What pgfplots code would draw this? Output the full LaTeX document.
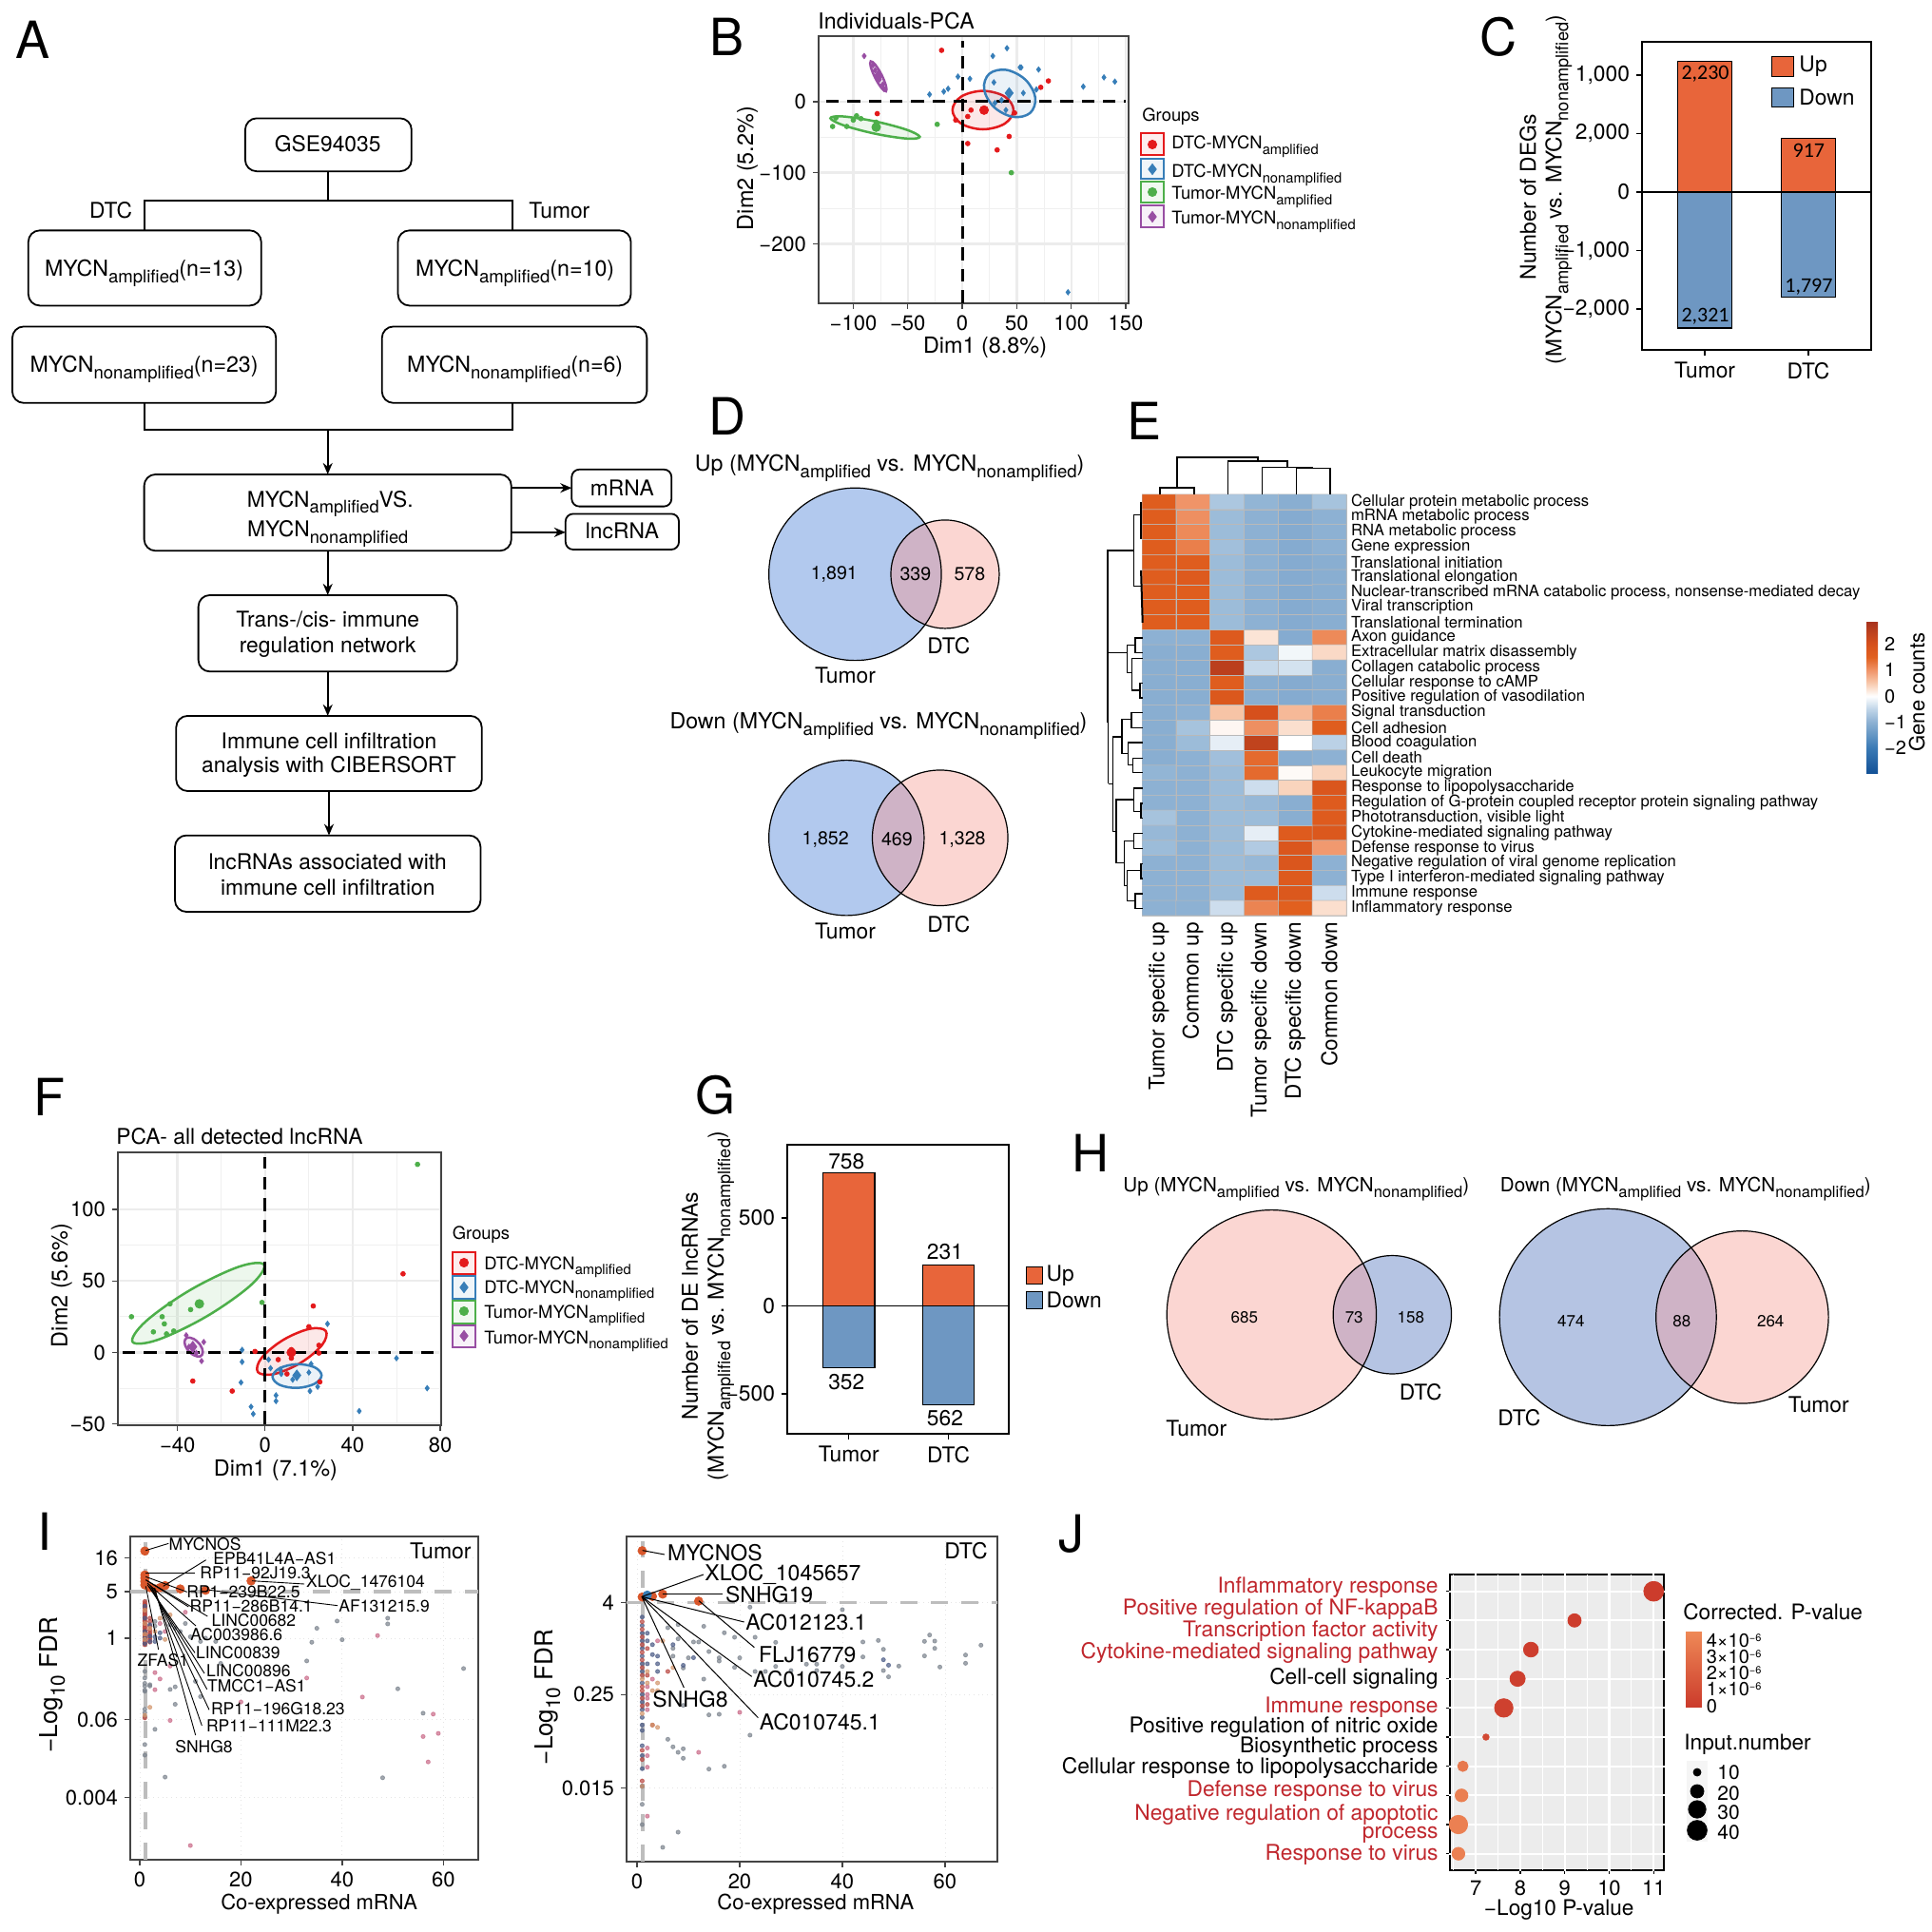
\documentclass[border=0pt]{standalone}
\usepackage{fontspec}
\setmainfont{TeX Gyre Heros}
\newfontfamily\calib{Carlito}
\usepackage{pgfplots}
\pgfplotsset{compat=1.18}
\usetikzlibrary{arrows.meta}

\newcommand\fs[1]{\fontsize{#1pt}{#1pt}\selectfont}
\newcommand\sbs[1]{\raisebox{-0.3em}{\scalebox{0.8}{#1}}}
\newcommand\Mamp{MYCN\sbs{amplified}}
\newcommand\Mnon{MYCN\sbs{nonamplified}}
\newcommand\ee[1]{#1×10\raisebox{0.3em}{\scalebox{0.55}{−6}}}

\definecolor{cR}{HTML}{E41A1C}
\definecolor{cB}{HTML}{377EB8}
\definecolor{cG}{HTML}{4DAF4A}
\definecolor{cP}{HTML}{984EA3}
\definecolor{upc}{HTML}{E8653A}
\definecolor{dnc}{HTML}{6E97C2}
\definecolor{dgray}{HTML}{444444}
\definecolor{vblue}{HTML}{B2C9EE}
\definecolor{vpink}{HTML}{FBD6D2}
\definecolor{vlens}{HTML}{CFB3C6}
\definecolor{hblue}{HTML}{B5C4E3}
\definecolor{jred}{HTML}{C0272D}
\definecolor{dotgray}{HTML}{7A828C}
\definecolor{dotpink}{HTML}{C96A88}
\definecolor{dotred}{HTML}{B8453F}
\definecolor{dotblue}{HTML}{4A5A85}
\definecolor{dotor}{HTML}{D2946A}
\definecolor{hilite}{HTML}{D9572B}
\definecolor{dashg}{HTML}{BDBDBD}

\pgfplotsset{
  master/.style={hide axis,scale only axis,width=1016pt,height=1016pt,
    at={(0pt,0pt)},anchor=south west,clip=false,y dir=reverse},
  pca/.style={scale only axis,
    axis line style={draw=dgray,line width=.9pt},
    tick style={draw=dgray,line width=.7pt},
    tick pos=left,tick align=outside,major tick length=3pt,minor tick length=0pt,
    grid=both,minor tick num=1,
    major grid style={gray!15,line width=1.2pt},
    minor grid style={gray!12,line width=.5pt},
    tick label style={font=\fs{11}},
    label style={font=\fs{11.7}}},
  bars/.style={scale only axis,ybar,bar width=0.52,bar shift=0,
    axis line style={draw=black,line width=.8pt},
    tick style={draw=black,line width=.7pt},
    tick pos=left,tick align=outside,major tick length=3pt,
    xtick={0,1},xticklabels={Tumor,DTC},
    tick label style={font=\fs{11.4}}},
  vol/.style={scale only axis,
    axis line style={draw=dgray,line width=.9pt},
    tick style={draw=dgray,line width=.7pt},
    tick pos=left,tick align=outside,major tick length=3pt,
    grid=major,major grid style={gray!20,line width=.4pt,dotted},
    xtick={0,20,40,60},xticklabels={0,20,40,60},
    tick label style={font=\fs{11}},
    label style={font=\fs{11}}},
  ell/.style={smooth cycle,tension=0.6,line width=1.25pt,draw=#1,fill=#1,fill opacity=.1,forget plot},
  zero/.style={black,line width=1.5pt,dash pattern=on 6.7pt off 4.5pt,forget plot},
  spt/.style={only marks,mark=*,mark size=1.2pt,color=#1,forget plot},
  sdm/.style={only marks,mark=diamond*,mark size=1.4pt,color=#1,forget plot},
  cpt/.style={only marks,mark=*,mark size=2.3pt,color=#1,forget plot},
  cdm/.style={only marks,mark=diamond*,mark size=2.8pt,color=#1,forget plot},
  dot/.style={only marks,mark=*,mark size=1.05pt,color=#1,opacity=.7,forget plot},
  hi/.style={only marks,mark=*,mark size=2.2pt,color=hilite,forget plot},
  gdash/.style={dashg,line width=1.8pt,dash pattern=on 9pt off 7pt,forget plot},
}

\begin{document}
\begin{tikzpicture}
\path[use as bounding box] (0pt,0pt) rectangle (1016pt,1016pt);

% B
\begin{axis}[pca,at={(430.5pt,856.5pt)},anchor=south west,width=163pt,height=140.5pt,
  xmin=-131.8,xmax=152.6,ymin=-283.5,ymax=92,
  xtick={-100,-50,0,50,100,150},xticklabels={−100,−50,0,50,100,150},
  ytick={-200,-100,0},yticklabels={−200,−100,0},
  xlabel={Dim1 (8.8\%)},ylabel={Dim2 (5.2\%)},
  x label style={at={(axis description cs:0.537,-0.164)},anchor=center},
  y label style={at={(axis description cs:-0.23,0.505)},anchor=center}]
\addplot[ell=cR] coordinates {(47,-12)(39,7)(19,15)(-1,7)(-9,-12)(-1,-31)(19,-39)(39,-31)};
\addplot[ell=cB] coordinates {(67,5.5)(58,30.6)(40.5,44.5)(24.8,39.1)(20,17.5)(29,-7.6)(46.5,-21.5)(62.2,-16.1)};
\addplot[ell=cG] coordinates {(-39,-49.5)(-51.7,-39.3)(-81,-27.5)(-109.7,-20.9)(-121,-23.5)(-108.3,-33.7)(-79,-45.5)(-50.3,-52.1)};
\addplot[ell=cP] coordinates {(-70,14.5)(-70,22.1)(-74,37.5)(-79.8,51.8)(-84,56.5)(-84,48.9)(-80,33.5)(-74.2,19.2)};
\addplot[zero] coordinates {(-125,0)(150,0)};
\addplot[zero] coordinates {(0,-283)(0,85)};
\addplot[spt=cR] coordinates {(-19,72)(-78,-17)(79,29)(72,20)(8,-12)(5,-21)(-6,-26)(5,-59)(32,-68)(43,-49)(48,-16)};
\addplot[cpt=cR] coordinates {(20,-12)};
\addplot[sdm=cB] coordinates {(-30,10)(-17,14)(-13,18)(-4,35)(7,32)(29,27)(28,64)(41,75)(54,48)(53,48)(70,45)(56,12)(68,17)(111,21)(130,34)(140,28)(97,-268)(36,2)(40,-12)(30,-2)};
\addplot[cdm=cB] coordinates {(43,12)};
\addplot[spt=cG] coordinates {(-119,-35)(-116,-23)(-106,-35)(-100,-26)(-97,-20)(-93,-24)(-79,-29)(-23,-32)(45,-100)};
\addplot[cpt=cG] coordinates {(-79,-36)};
\addplot[sdm=cP] coordinates {(-90,64)(-82,51)(-80,44)(-78,38)(-76,31)(-73,24)(-72,18)};
\addplot[cdm=cP] coordinates {(-77,36)};
\end{axis}

% C
\begin{axis}[bars,at={(863.5pt,832pt)},anchor=south west,width=120.5pt,height=162pt,
  xmin=-0.607,xmax=1.607,ymin=-2695,ymax=2568,
  ytick={-2000,-1000,0,1000,2000},yticklabels={{−2,000},{−1,000},0,{2,000},{1,000}}]
\addplot[fill=upc,draw=black,line width=.6pt] coordinates {(0,2230)(1,917)};
\addplot[fill=dnc,draw=black,line width=.6pt] coordinates {(0,-2321)(1,-1797)};
\addplot[sharp plot,black,line width=.8pt,forget plot] coordinates {(-0.607,0)(1.607,0)};
\end{axis}

% E
\begin{axis}[scale only axis,at={(600.5pt,534.5pt)},anchor=south west,width=107.5pt,height=221.5pt,
  y dir=reverse,xmin=-0.5,xmax=5.5,ymin=-0.5,ymax=27.5,
  axis line style={draw=gray!50,line width=.3pt},
  colormap={heat}{rgb255(0pt)=(18,80,150); rgb255(10pt)=(58,122,181); rgb255(20pt)=(141,177,211);
    rgb255(25pt)=(192,213,232); rgb255(30pt)=(255,255,255); rgb255(35pt)=(248,201,173);
    rgb255(40pt)=(240,148,104); rgb255(45pt)=(225,96,31); rgb255(50pt)=(214,80,28); rgb255(59pt)=(165,50,30)},
  point meta min=-3,point meta max=2.9,
  tick style={draw=none},
  xtick={0,...,5},
  xticklabels={Tumor specific up,Common up,DTC specific up,Tumor specific down,DTC specific down,Common down},
  xticklabel style={rotate=90,anchor=east,font=\fs{11.3}},
  ytick={0,...,27},yticklabel pos=right,
  yticklabels={Cellular protein metabolic process,mRNA metabolic process,RNA metabolic process,Gene expression,
    Translational initiation,Translational elongation,{Nuclear-transcribed mRNA catabolic process, nonsense-mediated decay},
    Viral transcription,Translational termination,Axon guidance,Extracellular matrix disassembly,Collagen catabolic process,
    Cellular response to cAMP,Positive regulation of vasodilation,Signal transduction,Cell adhesion,Blood coagulation,
    Cell death,Leukocyte migration,Response to lipopolysaccharide,Regulation of G-protein coupled receptor protein signaling pathway,
    {Phototransduction, visible light},Cytokine-mediated signaling pathway,Defense response to virus,
    Negative regulation of viral genome replication,Type I interferon-mediated signaling pathway,Immune response,Inflammatory response},
  yticklabel style={anchor=west,font=\fs{8.33},xshift=-1pt},
  colorbar,
  colorbar style={at={(parent axis.north east)},anchor=north west,xshift=265pt,yshift=-66.5pt,
    width=6pt,height=80.5pt,ytick={-2,-1,0,1,2},yticklabels={−2,−1,0,1,2},
    yticklabel style={font=\fs{10}},major tick length=0pt,axis line style={draw=none}}]
\addplot[matrix plot*,mesh/cols=6,point meta=explicit,draw=gray!55,line width=.25pt] coordinates {
(0,0)[1.6] (1,0)[1.0] (2,0)[-.7] (3,0)[-.95] (4,0)[-1.05] (5,0)[-.75]
(0,1)[1.6] (1,1)[1.05] (2,1)[-.85] (3,1)[-1] (4,1)[-1.1] (5,1)[-1]
(0,2)[1.6] (1,2)[1.1] (2,2)[-.85] (3,2)[-1] (4,2)[-1.1] (5,2)[-1]
(0,3)[1.6] (1,3)[1.2] (2,3)[-.8] (3,3)[-1] (4,3)[-1.1] (5,3)[-1]
(0,4)[1.6] (1,4)[1.6] (2,4)[-.85] (3,4)[-1] (4,4)[-1.1] (5,4)[-1.05]
(0,5)[1.6] (1,5)[1.7] (2,5)[-.85] (3,5)[-1] (4,5)[-1.1] (5,5)[-1.05]
(0,6)[1.6] (1,6)[1.6] (2,6)[-.85] (3,6)[-1] (4,6)[-1.1] (5,6)[-1.05]
(0,7)[1.6] (1,7)[1.6] (2,7)[-.85] (3,7)[-1] (4,7)[-1.1] (5,7)[-1.05]
(0,8)[1.6] (1,8)[1.6] (2,8)[-.85] (3,8)[-1] (4,8)[-1.1] (5,8)[-1.05]
(0,9)[-1] (1,9)[-1] (2,9)[1.7] (3,9)[.25] (4,9)[-1.1] (5,9)[1.1]
(0,10)[-1.05] (1,10)[-1.05] (2,10)[1.6] (3,10)[-.7] (4,10)[-.1] (5,10)[.35]
(0,11)[-1.05] (1,11)[-1.05] (2,11)[2.5] (3,11)[-.45] (4,11)[-.35] (5,11)[-1.05]
(0,12)[-1.05] (1,12)[-1.05] (2,12)[1.6] (3,12)[-1.05] (4,12)[-1.1] (5,12)[-1.05]
(0,13)[-1.05] (1,13)[-1.05] (2,13)[1.75] (3,13)[-1.05] (4,13)[-1.1] (5,13)[-1.05]
(0,14)[-1.05] (1,14)[-1] (2,14)[.55] (3,14)[2] (4,14)[.65] (5,14)[1.2]
(0,15)[-1.05] (1,15)[-.75] (2,15)[.08] (3,15)[1.05] (4,15)[.3] (5,15)[1.6]
(0,16)[-1.05] (1,16)[-.85] (2,16)[-.2] (3,16)[2.4] (4,16)[0] (5,16)[-.55]
(0,17)[-1.05] (1,17)[-1] (2,17)[-.8] (3,17)[1.4] (4,17)[-1.05] (5,17)[-1]
(0,18)[-.95] (1,18)[-1] (2,18)[-.85] (3,18)[1.4] (4,18)[.05] (5,18)[.4]
(0,19)[-1] (1,19)[-1] (2,19)[-.85] (3,19)[-.4] (4,19)[.4] (5,19)[1.8]
(0,20)[-1] (1,20)[-1] (2,20)[-.85] (3,20)[-.9] (4,20)[-1.05] (5,20)[1.65]
(0,21)[-.75] (1,21)[-1] (2,21)[-.85] (3,21)[-.85] (4,21)[-1.05] (5,21)[1.65]
(0,22)[-.9] (1,22)[-1] (2,22)[-.85] (3,22)[-.2] (4,22)[1.65] (5,22)[1.75]
(0,23)[-.85] (1,23)[-1] (2,23)[-.85] (3,23)[-.65] (4,23)[1.8] (5,23)[.95]
(0,24)[-1] (1,24)[-1] (2,24)[-.85] (3,24)[-.9] (4,24)[1.8] (5,24)[-1]
(0,25)[-1] (1,25)[-1] (2,25)[-.85] (3,25)[-.85] (4,25)[1.7] (5,25)[-1]
(0,26)[-1] (1,26)[-1] (2,26)[-.85] (3,26)[1.65] (4,26)[1.75] (5,26)[-.4]
(0,27)[-1] (1,27)[-1] (2,27)[-.4] (3,27)[1.15] (4,27)[1.5] (5,27)[.3]
};
\end{axis}

% F
\begin{axis}[pca,at={(62pt,266.5pt)},anchor=south west,width=170pt,height=143.5pt,
  xmin=-67.2,xmax=80.4,ymin=-50.9,ymax=140,
  xtick={-40,0,40,80},xticklabels={−40,0,40,80},
  ytick={-50,0,50,100},yticklabels={−50,0,50,100},
  xlabel={Dim1 (7.1\%)},ylabel={Dim2 (5.6\%)},
  x label style={at={(axis description cs:0.488,-0.167)},anchor=center},
  y label style={at={(axis description cs:-0.174,0.512)},anchor=center}]
\addplot[ell=cG] coordinates {(-0.5,61.4)(-12.1,59.9)(-34.5,43.4)(-54.5,21.7)(-60.5,7.4)(-48.9,8.9)(-26.5,25.4)(-6.5,47.1)};
\addplot[ell=cR] coordinates {(27.7,15.1)(20.3,16.5)(8.2,8.7)(-1.6,-3.8)(-3.3,-13.7)(4.1,-15.1)(16.2,-7.3)(26,5.2)};
\addplot[ell=cB] coordinates {(25.8,-16)(22.5,-10.3)(14.6,-8.2)(6.7,-11)(3.4,-17)(6.7,-22.7)(14.6,-24.8)(22.5,-22)};
\addplot[ell=cP] coordinates {(-29.6,-2.7)(-28.4,0.3)(-29.6,5.3)(-32.6,9.5)(-35.6,10.3)(-36.8,7.3)(-35.6,2.3)(-32.6,-1.9)};
\addplot[zero] coordinates {(-65,0)(78,0)};
\addplot[zero] coordinates {(0,-50)(0,137)};
\addplot[spt=cR] coordinates {(63,55)(22,32.5)(20,18)(24.6,5)(24.6,-0.4)(12,2)(12,-4)(6,-5)(-4.6,0.7)(10,-15)(25,-20.6)(-15,-27)(-33,-20)};
\addplot[cpt=cR] coordinates {(12,0)};
\addplot[sdm=cB] coordinates {(60,-4)(74,-25)(43,-41)(28.5,20)(-10.5,1.8)(-10.5,-6.6)(-11,-21)(-6.4,-38)(-5.4,-43)(5,-30)(5,-34)(1.6,-5)(2.5,-11)(7.4,-15)(21,-8)(20,-14)(12.6,-19)(24,-24)(20.5,-27)(7,-12)};
\addplot[cdm=cB] coordinates {(14.5,-16)};
\addplot[spt=cG] coordinates {(69.6,131.6)(-61,25)(-47,25)(-43.4,34)(-34,30)(-46,20)(-51,14.4)(-45,13)(-41.7,15)(-1.4,35)};
\addplot[cpt=cG] coordinates {(-30,34)};
\addplot[sdm=cP] coordinates {(-36,12)(-28,7.3)(-29,-6)(-34.7,4)(-33,1.8)(-31.4,-0.4)};
\addplot[cdm=cP] coordinates {(-33,4)};
\end{axis}

% G
\begin{axis}[bars,at={(414pt,262pt)},anchor=south west,width=116.5pt,height=152pt,
  xmin=-0.617,xmax=1.605,ymin=-727,ymax=916,
  ytick={-500,0,500},yticklabels={−500,0,500}]
\addplot[fill=upc,draw=black,line width=.6pt] coordinates {(0,758)(1,231)};
\addplot[fill=dnc,draw=black,line width=.6pt] coordinates {(0,-352)(1,-562)};
\addplot[sharp plot,black,line width=.8pt,forget plot] coordinates {(-0.617,0)(1.605,0)};
\end{axis}

% I left
\begin{axis}[vol,at={(68.5pt,38pt)},anchor=south west,width=183pt,height=170pt,
  xmin=-1.88,xmax=66.9,ymin=-3.333,ymax=1.529,
  ytick={-2.398,-1.222,0,0.699,1.204},yticklabels={0.004,0.06,1,5,16},
  xlabel={Co-expressed mRNA},ylabel={−Log\sbs{10} FDR},
  x label style={at={(axis description cs:0.543,-0.138)},anchor=center},
  y label style={at={(axis description cs:-0.224,0.541)},anchor=center,font=\fs{13}}]
\addplot[gdash] coordinates {(-1.88,0.699)(66.9,0.699)};
\addplot[gdash] coordinates {(1.1,-3.333)(1.1,1.45)};
\addplot[dot=dotgray] coordinates {(49,.30)(49,.214)(39,.257)(35,.148)(34,-.062)(40,-.024)(33,-.343)(64,-.457)(51,-.762)(56,-1.129)(48,-2.1)(5,-2.09)(3,-1.371)(7,-.995)(6,-.771)(7,-.733)
 (1,-.5)(1,-.6)(1,-.68)(1,-.72)(1,-.78)(1,-.8)(1,-1.07)(1,-1.12)(1,-1.18)(1,-1.6)(1,-1.76)(2,-.7)(2,-.72)(3,.25)(3,.18)(6,.2)(7,.15)(8,.1)(9,.22)(10,.02)(12,-.05)(15,-.05)(16,-.38)(11,-.65)(12,-.88)(13,.0)};
\addplot[dot=dotpink] coordinates {(47,.038)(33,-.6)(44,-.886)(58,-1.143)(56,-1.48)(59,-1.433)(57,-1.862)(10,-3.119)(6,-1.238)(3,-.519)(4,-.614)(3,-.776)(20,-.96)(4,.22)(5,.1)(9,.39)(6,-.42)};
\addplot[dot=dotred] coordinates {(1,.55)(1,.52)(1,.5)(1,.47)(1,.45)(1,.42)(1,.4)(1,.37)(1,.35)(1,.32)(1,.3)(1,.27)(1,.25)(1,.22)(1,.2)(1,.17)(1,.15)(1,.12)(1,.1)(1,.07)(1,.05)(1,.02)(1,0)(1,-.03)(1,-.05)(1,-.08)(1,-.1)(2,.3)(2,.25)(2,.18)(2,.12)(2,.08)(2,.05)(2,.01)(2,-.02)(2,-.06)(1,-1.2)};
\addplot[dot=dotblue] coordinates {(1,.48)(1,.3)(1,.1)(1,0)(1,-.08)(2,.2)(2,.03)(2,-.05)(3,.02)(4,.08)(4,0)(3,-.05)};
\addplot[dot=dotor] coordinates {(1,.42)(1,.22)(1,.06)(1,-.02)(2,.15)(4,.3)(3,.1)(5,-.02)(2,-1.04)(1,-1.16)(6,.35)};
\addplot[hi] coordinates {(1,1.31)(1,.95)(1,.9)(1,.85)(1,.8)(2,.76)(3,.74)(4,.76)(5,.79)(8,.74)(13,.72)(22,.86)};
\end{axis}

% I right
\begin{axis}[vol,at={(329.5pt,37pt)},anchor=south west,width=195pt,height=171pt,
  xmin=-2.04,xmax=70.2,ymin=-2.784,ymax=1.463,
  ytick={-1.824,-0.602,0.602},yticklabels={0.015,0.25,4},
  xlabel={Co-expressed mRNA},ylabel={−Log\sbs{10} FDR},
  x label style={at={(axis description cs:0.51,-0.132)},anchor=center},
  y label style={at={(axis description cs:-0.213,0.506)},anchor=center,font=\fs{13}}]
\addplot[gdash] coordinates {(-2.04,0.602)(70.2,0.602)};
\addplot[gdash] coordinates {(1.1,-2.784)(1.1,1.4)};
\addplot[dot=dotgray] coordinates {(40,.507)(22,.54)(13,.29)(17,.205)(19,.147)(23,.147)(27,.08)(44,.085)(47,.105)(56,.093)(57,.176)(58,.097)(58,.002)(56,-.097)(67,.043)(64,-.085)(64,-.193)(59,-.242)(51,-.23)(49,-.37)(48,-.011)(48,-.288)(44,-.11)(40,-.234)(35,-.205)(35,-.288)(33,-.205)(30,-.288)(27,-.234)(25,-.3)(23,-.3)(20,-.122)(19,-.247)(16,-.122)(16,-.164)(14,-.04)(12,.085)(11,.085)(10,-.122)(9,-.255)(8,.312)(8,.126)(6,.271)(7,.002)(7,-.1)(13,-.4)(14,-.867)(16,-.859)(9,-.743)(22,-1.132)(6,-1.186)(7,-1.285)(8,-1.356)(9,-1.31)(9,-1.434)(14,-1.575)(17,-1.538)(8,-2.399)(5,-2.597)(1,-2.035)(1,-2.3)};
\addplot[dot=dotblue] coordinates {(1,.41)(1,.3)(1,.2)(1,.1)(1,0)(1,-.1)(1,-.2)(1,-.3)(1,-.45)(1,-.6)(1,-.7)(1,-.8)(1,-.9)(1,-1.0)(1,-1.07)(1,-1.27)(1,-1.4)(1,-1.57)(1,-1.8)(2,.2)(2,.1)(2,-.2)(3,.05)(3,-.08)(4,-.2)(4,-.3)(4,-.1)(49,-.218)(48,-.147)(9,-.22)(7,.05)(11,-.12)};
\addplot[dot=dotred] coordinates {(1,.35)(1,.25)(1,.15)(1,.05)(1,-.05)(1,-.15)(1,-.25)(1,-.35)(1,-.5)(1,-.55)(1,-.65)(1,-.75)(1,-1.33)(1,-1.45)(1,-1.73)(2,.0)(2,-.35)(6,-.3)(3,-1.0)(2,-.73)};
\addplot[dot=dotpink] coordinates {(2,-.5)(2,-.6)(2,-.65)(2,-.8)(2,-1.3)(2,-1.4)(2,-1.55)(2,-2.19)(20,-.834)(12,-1.356)(4,.1)(3,-.4)};
\addplot[dot=dotor] coordinates {(1,-.4)(1,-.85)(1,-1.8)(2,-.3)(2,-.45)(3,-.55)(4,-.45)(4,-.55)(4,-1.03)(3,-1.0)(5,.1)(7,-.25)};
\addplot[hi] coordinates {(1,1.277)(1,.672)(3,.68)(5,.71)(12,.619)};
\addplot[only marks,mark=*,mark size=2.2pt,color=cB,forget plot] coordinates {(2,.697)};
\end{axis}

% J
\begin{axis}[scale only axis,at={(762.5pt,32.5pt)},anchor=south west,width=112.5pt,height=155.5pt,
  xmin=6.42,xmax=11.23,ymin=-0.565,ymax=9.576,clip=false,
  axis background/.style={fill=gray!15},
  axis line style={draw=black,line width=.9pt},
  tick style={draw=black,line width=.7pt},
  tick align=outside,tick pos=left,major tick length=2pt,
  xtick={7,8,9,10,11},xticklabels={7,8,9,10,11},
  ytick={0,...,9},yticklabels={},
  tick label style={font=\fs{11}},label style={font=\fs{11.3}},
  xlabel={−Log10 P-value},
  x label style={at={(axis description cs:0.51,-0.135)},anchor=center},
  colormap={pv}{rgb255(0pt)=(203,58,43); rgb255(4pt)=(239,138,87)},
  point meta min=-0.1,point meta max=4.6,
  colorbar,
  colorbar style={at={(parent axis.north east)},anchor=north west,xshift=3pt,yshift=-29.5pt,
    width=8.35pt,height=40.4pt,ytick={0,1,2,3,4},
    yticklabels={0,\ee{1},\ee{2},\ee{3},\ee{4}},
    yticklabel style={font=\fs{10},xshift=-1pt},major tick length=0pt,axis line style={draw=none}}]
\addplot[white,line width=.5pt,forget plot,unbounded coords=jump] coordinates {
 (6.5,-.565)(6.5,9.576)(nan,nan)(7.5,-.565)(7.5,9.576)(nan,nan)(8.5,-.565)(8.5,9.576)(nan,nan)(9.5,-.565)(9.5,9.576)(nan,nan)(10.5,-.565)(10.5,9.576)};
\addplot[white,line width=1.1pt,forget plot,unbounded coords=jump] coordinates {
 (7,-.6)(7,9.61)(nan,nan)(8,-.6)(8,9.61)(nan,nan)(9,-.6)(9,9.61)(nan,nan)(10,-.6)(10,9.61)(nan,nan)(11,-.6)(11,9.61)(nan,nan)
 (6.39,0)(11.26,0)(nan,nan)(6.39,1)(11.26,1)(nan,nan)(6.39,2)(11.26,2)(nan,nan)(6.39,3)(11.26,3)(nan,nan)(6.39,4)(11.26,4)(nan,nan)
 (6.39,5)(11.26,5)(nan,nan)(6.39,6)(11.26,6)(nan,nan)(6.39,7)(11.26,7)(nan,nan)(6.39,8)(11.26,8)(nan,nan)(6.39,9)(11.26,9)};
\addplot[scatter,only marks,mark=*,point meta=explicit,
  scatter/use mapped color={draw=mapped color,fill=mapped color},
  visualization depends on={\thisrow{r} \as \rr},
  scatter/@pre marker code/.append style={/tikz/mark size=\rr pt}]
  table[x=x,y=y,meta=m] {
x y r m
11 9 5.2 0
9.22 8 3.5 .1
8.24 7 3.9 .1
7.94 6 4.0 .2
7.63 5 4.85 .3
7.23 4 1.65 .8
6.71 3 2.75 3.5
6.68 2 3.35 3.9
6.61 1 4.85 4
6.61 0 3.35 4
};
\end{axis}

% overview units: flowchart, Venn diagrams, panel letters, bar notes
\begin{axis}[master,xmin=0,xmax=1568,ymin=0,ymax=1568]
\tikzset{box/.style={draw=black,line width=.9pt,rounded corners=6pt},
  wire/.style={draw=black,line width=.9pt},
  arr/.style={draw=black,line width=.9pt,-{Stealth[length=6pt,width=5pt]}}}
\draw[box] (199,96) rectangle (334,139);
\draw[box] (23,187) rectangle (212,248);
\draw[box] (323,187) rectangle (512,248);
\draw[box] (10,265) rectangle (224,327);
\draw[box] (310,265) rectangle (525,327);
\draw[box] (117,385) rectangle (415,447);
\draw[box,rounded corners=4pt] (464,381) rectangle (545,411);
\draw[box,rounded corners=4pt] (459,417) rectangle (551,446);
\draw[box] (161,483) rectangle (371,545);
\draw[box] (143,581) rectangle (391,642);
\draw[box] (142,678) rectangle (390,740);
\draw[wire] (266,139) -- (266,163);
\draw[wire] (117,187) -- (117,163) -- (416,163) -- (416,187);
\draw[wire] (117,327) -- (117,349) -- (416,349) -- (416,327);
\draw[arr] (266,349) -- (266,385);
\draw[arr] (415,396) -- (464,396);
\draw[arr] (415,432) -- (459,432);
\draw[arr] (266,447) -- (266,483);
\draw[arr] (266,545) -- (266,581);
\draw[arr] (267,642) -- (267,678);
\tikzset{every node/.append style={font=\fs{11.4},inner sep=0pt}}
\node at (266,117) {GSE94035};
\node at (90,171) {DTC};
\node at (454,171) {Tumor};
\node[font=\fs{11.6}] at (117,222) {\Mamp(n=13)};
\node[font=\fs{11.6}] at (418,222) {\Mamp(n=10)};
\node[font=\fs{11.6}] at (117,300) {\Mnon(n=23)};
\node[font=\fs{11.6}] at (418,300) {\Mnon(n=6)};
\node at (268,409) {\Mamp VS.};
\node at (266,433) {\Mnon};
\node at (505,396) {mRNA};
\node at (505,431) {lncRNA};
\node at (266,503) {Trans-/cis- immune};
\node at (266,525) {regulation network};
\node at (267,601) {Immune cell infiltration};
\node at (267,622) {analysis with CIBERSORT};
\node at (266,699) {lncRNAs associated with};
\node at (266,720) {immune cell infiltration};
% D
\node[font=\fs{11.6}] at (722,380) {Up (\Mamp{} vs. \Mnon)};
\fill[vblue] (694,466) circle[radius={70*0.648pt}];
\fill[vpink] (767,466) circle[radius={44*0.648pt}];
\begin{scope}\clip (694,466) circle[radius={70*0.648pt}];\fill[vlens] (767,466) circle[radius={44*0.648pt}];\end{scope}
\draw[line width=.6pt] (694,466) circle[radius={70*0.648pt}];
\draw[line width=.6pt] (767,466) circle[radius={44*0.648pt}];
\node[font=\fs{11.6}] at (713,589) {Down (\Mamp{} vs. \Mnon)};
\fill[vblue] (687,680) circle[radius={63*0.648pt}];
\fill[vpink] (763,680) circle[radius={55*0.648pt}];
\begin{scope}\clip (687,680) circle[radius={63*0.648pt}];\fill[vlens] (763,680) circle[radius={55*0.648pt}];\end{scope}
\draw[line width=.6pt] (687,680) circle[radius={63*0.648pt}];
\draw[line width=.6pt] (763,680) circle[radius={55*0.648pt}];
\node[font=\fs{9.8}] at (677,466) {1,891};
\node[font=\fs{9.8}] at (743,466) {339};
\node[font=\fs{9.8}] at (787,466) {578};
\node at (686,548) {Tumor};
\node at (770,524) {DTC};
\node[font=\fs{9.8}] at (670,681) {1,852};
\node[font=\fs{9.8}] at (728,681) {469};
\node[font=\fs{9.8}] at (781,681) {1,328};
\node at (686,756) {Tumor};
\node at (770,750) {DTC};
% H
\node[font=\fs{10.3}] at (1052,965) {Up (\Mamp{} vs. \Mnon)};
\fill[vpink] (1032,1067) circle[radius={85*0.648pt}];
\fill[hblue] (1130,1067) circle[radius={48*0.648pt}];
\begin{scope}\clip (1032,1067) circle[radius={85*0.648pt}];\fill[vlens] (1130,1067) circle[radius={48*0.648pt}];\end{scope}
\draw[line width=.6pt] (1032,1067) circle[radius={85*0.648pt}];
\draw[line width=.6pt] (1130,1067) circle[radius={48*0.648pt}];
\node[font=\fs{10.3}] at (1368,965) {Down (\Mamp{} vs. \Mnon)};
\fill[hblue] (1305,1069) circle[radius={88*0.648pt}];
\fill[vpink] (1414,1069) circle[radius={70*0.648pt}];
\begin{scope}\clip (1305,1069) circle[radius={88*0.648pt}];\fill[vlens] (1414,1069) circle[radius={70*0.648pt}];\end{scope}
\draw[line width=.6pt] (1305,1069) circle[radius={88*0.648pt}];
\draw[line width=.6pt] (1414,1069) circle[radius={70*0.648pt}];
\node[font=\fs{8.5}] at (1010,1069) {685};
\node[font=\fs{8.5}] at (1099,1069) {73};
\node[font=\fs{8.5}] at (1145,1069) {158};
\node at (971,1159) {Tumor};
\node at (1153,1130) {DTC};
\node[font=\fs{8.5}] at (1275,1072) {474};
\node[font=\fs{8.5}] at (1365,1072) {88};
\node[font=\fs{8.5}] at (1437,1072) {264};
\node at (1233,1151) {DTC};
\node at (1476,1140) {Tumor};
% C, G notes
\node[rotate=90] at (1240,160) {Number of DEGs};
\node[rotate=90] at (1265,154) {(\Mamp{} vs. \Mnon)};
\node[font=\calib\fs{11}] at (1384,60) {2,230};
\node[font=\calib\fs{11}] at (1468,122) {917};
\node[font=\calib\fs{11}] at (1384,257) {2,321};
\node[font=\calib\fs{11}] at (1468,233) {1,797};
\draw[fill=upc,line width=.5pt] (1438,46) rectangle (1456,62);
\draw[fill=dnc,line width=.5pt] (1438,71) rectangle (1456,87);
\node[anchor=west] at (1460,54) {Up};
\node[anchor=west] at (1460,79) {Down};
\node[rotate=90] at (560,1060) {Number of DE lncRNAs};
\node[rotate=90] at (585,1060) {(\Mamp{} vs. \Mnon)};
\node at (687,943) {758};
\node at (767,1016) {231};
\node at (687,1122) {352};
\node at (767,1151) {562};
\draw[fill=upc,line width=.5pt] (833,1028) rectangle (846,1042);
\draw[fill=dnc,line width=.5pt] (833,1048) rectangle (846,1062);
\node[anchor=west] at (849,1035) {Up};
\node[anchor=west] at (849,1055) {Down};
% panel letters
\tikzset{lett/.style={font=\fs{27}}}
\node[lett] at (27,32) {A};
\node[lett] at (590,30) {B};
\node[lett] at (1216,30) {C};
\node[lett] at (590,338) {D};
\node[lett] at (929,342) {E};
\node[lett] at (40,890) {F};
\node[lett] at (581,889) {G};
\node[lett] at (885,936) {H};
\node[lett] at (36,1243) {I};
\node[lett] at (870,1245) {J};
\end{axis}

% reference pixels: titles, PCA legends, volcano labels, dendrogram top, J legends
\begin{axis}[master,xmin=0,xmax=2032,ymin=0,ymax=2032]
\tikzset{every node/.append style={inner sep=0pt,font=\fs{9.2}},
  lab/.style={anchor=west},
  key/.style={line width=1pt,draw=#1,fill=#1!8}}
\node[anchor=west,font=\fs{11.6}] at (860,22) {Individuals-PCA};
\node[anchor=west,font=\fs{11.4}] at (122,1195) {PCA- all detected lncRNA};
% B legend
\node[anchor=west] at (1201,123) {Groups};
\draw[key=cR] (1200,140) rectangle (1224,163);
\draw[key=cB] (1200,167) rectangle (1224,188);
\draw[key=cG] (1200,191) rectangle (1224,213);
\draw[key=cP] (1200,216) rectangle (1224,239);
\addplot[cpt=cR] coordinates {(1212,152)};
\addplot[cdm=cB] coordinates {(1212,178)};
\addplot[cpt=cG] coordinates {(1212,202)};
\addplot[cdm=cP] coordinates {(1212,228)};
\node[anchor=base west] at (1232,157) {DTC-\Mamp};
\node[anchor=base west] at (1232,187) {DTC-\Mnon};
\node[anchor=base west] at (1232,210) {Tumor-\Mamp};
\node[anchor=base west] at (1232,236) {Tumor-\Mnon};
% F legend
\node[anchor=west] at (475.5,1299) {Groups};
\draw[key=cR] (476,1317) rectangle (500,1340);
\draw[key=cB] (476,1342) rectangle (500,1366);
\draw[key=cG] (476,1368) rectangle (500,1392);
\draw[key=cP] (476,1394) rectangle (500,1417);
\addplot[cpt=cR] coordinates {(488,1328)};
\addplot[cdm=cB] coordinates {(488,1354)};
\addplot[cpt=cG] coordinates {(488,1379)};
\addplot[cdm=cP] coordinates {(488,1405)};
\node[anchor=base west] at (509,1335) {DTC-\Mamp};
\node[anchor=base west] at (509,1360) {DTC-\Mnon};
\node[anchor=base west] at (509,1386) {Tumor-\Mamp};
\node[anchor=base west] at (509,1413) {Tumor-\Mnon};
% heat colour bar title, top dendrogram
\node[rotate=90,font=\fs{11}] at (2016,728) {Gene counts};
\draw[line width=.7pt] (1220,520) -- (1220,513) -- (1256,513) -- (1256,520);
\draw[line width=.7pt] (1363.6,520) -- (1363.6,492.7) -- (1399,492.7) -- (1399,520);
\draw[line width=.7pt] (1327.5,520) -- (1327.5,491.7) -- (1381,491.7);
\draw[line width=.7pt] (1291.5,520) -- (1291.5,485) -- (1354,485) -- (1354,491.7);
\draw[line width=.7pt] (1238,513) -- (1238,481) -- (1323,481) -- (1323,485);
% volcano corner labels
\node[anchor=east,font=\fs{11.5}] at (496,1631) {Tumor};
\node[anchor=east,font=\fs{11.5}] at (1039,1631) {DTC};
% J term labels
\tikzset{jl/.style={anchor=east,font=\fs{11.4},text=#1}}
\node[jl=jred] at (1513,1670) {Inflammatory response};
\node[jl=jred] at (1513,1692.7) {Positive regulation of NF-kappaB};
\node[jl=jred] at (1513,1716) {Transcription factor activity};
\node[jl=jred] at (1513,1738.3) {Cytokine-mediated signaling pathway};
\node[jl=black] at (1513,1765.7) {Cell-cell signaling};
\node[jl=jred] at (1513,1796) {Immune response};
\node[jl=black] at (1513,1817) {Positive regulation of nitric oxide};
\node[jl=black] at (1513,1838) {Biosynthetic process};
\node[jl=black] at (1513,1859) {Cellular response to lipopolysaccharide};
\node[jl=jred] at (1513,1884) {Defense response to virus};
\node[jl=jred] at (1513,1909) {Negative regulation of apoptotic};
\node[jl=jred] at (1513,1930) {process};
\node[jl=jred] at (1513,1951) {Response to virus};
% J legends
\node[anchor=west,font=\fs{11.3}] at (1770,1695) {Corrected. P-value};
\node[anchor=west,font=\fs{11.3}] at (1771,1835) {Input.number};
\fill[gray!8] (1774,1852) rectangle (1796,1937);
\addplot[only marks,mark=*,mark size=2pt,black,forget plot] coordinates {(1785,1864)};
\addplot[only marks,mark=*,mark size=3.5pt,black,forget plot] coordinates {(1785,1884)};
\addplot[only marks,mark=*,mark size=4.6pt,black,forget plot] coordinates {(1785,1903)};
\addplot[only marks,mark=*,mark size=5.2pt,black,forget plot] coordinates {(1785,1925)};
\node[anchor=west,font=\fs{10.5}] at (1806,1864) {10};
\node[anchor=west,font=\fs{10.5}] at (1806,1886) {20};
\node[anchor=west,font=\fs{10.5}] at (1806,1906) {30};
\node[anchor=west,font=\fs{10.5}] at (1806,1927) {40};
\end{axis}

% volcano labels, left panel: thirds of a pixel from (40,1590)
\begin{axis}[master,xmin=-120,xmax=5976,ymin=-4770,ymax=1326]
\tikzset{every node/.append style={inner sep=0pt,anchor=west,font=\fs{8.75}},ln/.style={line width=.45pt}}
\draw[ln] (340,122)--(412,100); \draw[ln] (395,235)--(530,152); \draw[ln] (340,192)--(495,192);
\draw[ln] (675,218)--(840,228); \draw[ln] (340,205)--(470,253); \draw[ln] (540,247)--(945,296);
\draw[ln] (340,215)--(475,300); \draw[ln] (340,215)--(535,330); \draw[ln] (345,225)--(498,360);
\draw[ln] (345,230)--(495,445); \draw[ln] (340,235)--(380,435); \draw[ln] (350,235)--(525,510);
\draw[ln] (355,235)--(533,560); \draw[ln] (360,240)--(540,625); \draw[ln] (365,240)--(517,675);
\draw[ln] (368,240)--(497,705);
\node at (412,102) {MYCNOS};
\node at (552,147) {EPB41L4A−AS1};
\node at (510,193) {RP11−92J19.3};
\node at (845,223) {XLOC\_1476104};
\node at (468,252) {RP1−239B22.5};
\node at (948,298) {AF131215.9};
\node at (478,297) {RP11−286B14.1};
\node at (547,343) {LINC00682};
\node at (480,387) {AC003986.6};
\node at (497,443) {LINC00839};
\node at (313,467) {ZFAS1};
\node at (530,502) {LINC00896};
\node at (533,550) {TMCC1−AS1};
\node at (545,620) {RP11−196G18.23};
\node at (530,676) {RP11−111M22.3};
\node at (432,740) {SNHG8};
\end{axis}

% volcano labels, right panel: thirds of a pixel from (560,1590)
\begin{axis}[master,xmin=-1680,xmax=4416,ymin=-4770,ymax=1326]
\tikzset{every node/.append style={inner sep=0pt,anchor=west,font=\fs{11.5}},ln/.style={line width=.5pt}}
\draw[ln] (347,122)--(417,135); \draw[ln] (345,268)--(540,198); \draw[ln] (410,258)--(600,258);
\draw[ln] (345,268)--(668,348); \draw[ln] (525,281)--(700,428); \draw[ln] (345,268)--(692,520);
\draw[ln] (345,268)--(712,650); \draw[ln] (345,268)--(478,555);
\node at (425,128) {MYCNOS};
\node at (543,197) {XLOC\_1045657};
\node at (608,262) {SNHG19};
\node at (672,347) {AC012123.1};
\node at (713,450) {FLJ16779};
\node at (696,528) {AC010745.2};
\node at (378,590) {SNHG8};
\node at (715,662) {AC010745.1};
\end{axis}

% left dendrogram: thirds of a pixel from (1150,470)
\begin{axis}[master,xmin=-3450,xmax=2646,ymin=-1410,ymax=4686]
\tikzset{dg/.style={line width=.7pt}}
\draw[dg] (45,870)--(45,327)--(128,327);
\draw[dg] (150,215)--(128,215)--(128,440)--(150,440);
\draw[dg,line width=1pt] (150,175)--(150,290);
\draw[dg,line width=1pt] (150,390)--(155,555);
\draw[dg] (47,1063)--(47,650)--(107,650);
\draw[dg,line width=1.4pt] (45,650)--(45,870);
\draw[dg] (132,625)--(107,625)--(107,712)--(122,712);
\draw[dg] (155,603)--(132,603)--(132,650)--(155,650);
\draw[dg] (155,668)--(122,668)--(122,768)--(147,768);
\draw[dg] (155,745)--(147,745)--(147,792)--(155,792);
\draw[dg] (47,1063)--(62,1063);
\draw[dg] (90,915)--(62,915)--(62,1213)--(72,1213);
\draw[dg] (120,860)--(90,860)--(90,968)--(110,968);
\draw[dg] (155,838)--(120,838)--(120,887)--(155,887);
\draw[dg] (155,933)--(110,933)--(110,1003)--(125,1003);
\draw[dg] (155,982)--(125,982)--(125,1028)--(155,1028);
\draw[dg] (128,1113)--(72,1113)--(72,1313)--(97,1313);
\draw[dg] (155,1077)--(128,1077)--(128,1150)--(150,1150);
\draw[dg] (155,1125)--(150,1125)--(150,1172)--(155,1172);
\draw[dg] (128,1243)--(97,1243)--(97,1385)--(107,1385);
\draw[dg] (155,1220)--(128,1220)--(128,1267)--(155,1267);
\draw[dg] (150,1337)--(107,1337)--(107,1433)--(132,1433);
\draw[dg] (155,1315)--(150,1315)--(150,1362)--(155,1362);
\draw[dg] (155,1410)--(132,1410)--(132,1457)--(155,1457);
\end{axis}
\end{tikzpicture}
\end{document}
